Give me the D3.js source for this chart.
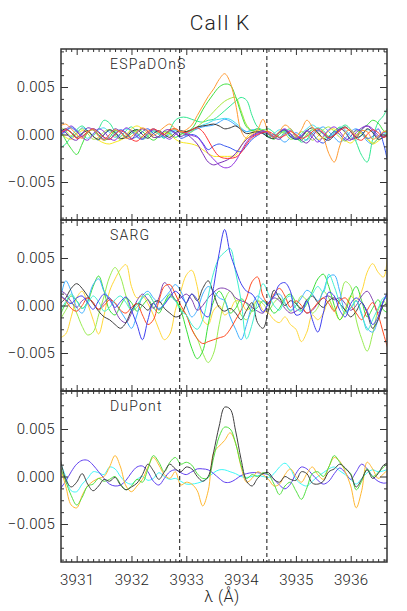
<!DOCTYPE html>
<html><head><meta charset="utf-8">
<script src="https://cdn.jsdelivr.net/npm/d3@7"></script>
<style>
html,body{margin:0;padding:0;background:#fff;}
svg{display:block;}
svg text{font-family:"Roboto","DejaVu Sans",sans-serif;font-weight:300;}
</style></head>
<body><svg id="chart" width="407" height="611"></svg>
<script>
// Wavelength grid (Å)
const wavelength = [3930.7,3930.8,3930.9,3931.0,3931.1,3931.2,3931.3,3931.4,3931.5,3931.6,
3931.7,3931.8,3931.9,3932.0,3932.1,3932.2,3932.3,3932.4,3932.5,3932.6,
3932.7,3932.8,3932.9,3933.0,3933.1,3933.2,3933.3,3933.4,3933.5,3933.6,
3933.7,3933.8,3933.9,3934.0,3934.1,3934.2,3934.3,3934.4,3934.5,3934.6,
3934.7,3934.8,3934.9,3935.0,3935.1,3935.2,3935.3,3935.4,3935.5,3935.6,
3935.7,3935.8,3935.9,3936.0,3936.1,3936.2,3936.3,3936.4,3936.5,3936.6,3936.7];

// values in units of 1e-3
const espBlack = [0.3,0.6,0.2,-0.3,0.1,0.4,-0.2,-0.5,0.0,0.5, 0.2,-0.4,-0.3,0.3,0.5,0.0,-0.4,0.1,0.4,0.0, -0.3,0.2,0.4,0.3,0.5,0.8,0.9,1.0,1.1,0.9, 0.6,0.7,0.9,0.5,0.1,0.2,0.3,0.1,-0.3,-0.4, 0.2,0.5,-0.2,-0.5,-0.3,0.4,0.7,0.2,-0.4,-0.6, -0.1,0.5,0.8,0.3,-0.3,-0.1,0.6,0.2,-0.5,-0.3, 0.0];
const espPurple = [-0.2,0.5,0.9,0.4,-0.3,-0.6,0.0,0.6,0.3,-0.4, -0.6,0.1,0.7,0.4,-0.2,-0.5,0.1,0.5,0.3,-0.2, -0.5,0.0,0.3,0.1,-0.1,-0.3,-1.0,-2.0,-2.6,-3.2, -3.5,-3.4,-2.8,-1.8,-0.8,-0.2,0.1,0.3,0.2,-0.2, 0.3,0.6,0.1,-0.4,-0.1,0.4,-0.3,-0.8,-0.2,0.5, 0.8,0.3,-0.4,-0.6,0.2,0.7,0.9,0.4,-0.3,0.2, 0.5];
const espViolet = [0.5,0.2,-0.4,-0.6,0.1,0.7,0.5,-0.1,-0.5,0.0, 0.6,0.3,-0.3,-0.5,0.2,0.6,0.3,-0.3,-0.2,0.4, 0.5,0.1,-0.2,0.0,-0.4,-1.0,-2.0,-2.9,-3.2,-3.0, -2.8,-2.5,-2.0,-1.2,-0.5,-0.1,0.2,0.4,0.1,-0.3, -0.5,0.1,0.4,-0.1,-0.6,-0.9,-0.2,0.4,0.1,-0.4, 0.0,0.6,0.3,-0.5,-0.3,0.5,0.9,0.6,-0.1,-0.2, 0.1];
const espBlue = [0.0,0.4,0.7,0.3,-0.2,0.2,0.6,0.3,-0.3,-0.5, 0.1,0.5,0.2,-0.4,-0.2,0.3,0.6,0.1,-0.3,0.0, 0.4,0.2,-0.4,-0.2,0.0,-0.2,-0.9,-1.6,-1.2,-1.0, -1.2,-1.4,-1.7,-1.8,-1.2,-0.5,-0.1,0.2,0.0,-0.3, 0.2,0.5,0.0,-0.5,-0.2,0.4,0.1,-0.6,-0.9,-0.3, 0.3,0.0,-0.6,-0.2,0.5,0.3,-0.4,-0.2,0.6,-1.0, -3.6];
const espLtBlue = [0.6,0.2,-0.3,0.1,0.7,0.4,-0.2,-0.6,0.0,0.4, 0.0,-0.5,-0.2,0.3,0.0,-0.4,0.2,0.6,0.2,-0.3, 0.0,0.4,0.2,-0.1,0.3,0.6,0.8,0.9,1.0,1.3, 1.6,1.4,1.0,0.6,0.3,0.5,0.4,0.1,-0.2,0.0, -0.4,-0.8,-0.3,0.2,-0.2,-0.6,0.1,0.5,0.8,0.3, -0.3,-0.8,-0.4,0.3,0.6,0.1,-0.7,-1.0,-0.4,0.2, 0.4];
const espCyan = [-0.3,0.3,0.8,0.5,0.0,-0.4,0.1,0.5,0.7,0.2, -0.3,0.1,0.6,0.3,-0.3,-0.5,0.0,0.4,0.1,-0.3, 0.2,0.5,0.3,0.1,0.4,0.7,1.0,1.2,1.5,1.6, 1.7,1.6,1.2,0.7,0.3,0.4,0.6,0.2,-0.3,0.1, 0.5,0.3,-0.3,-0.5,0.1,0.6,1.0,0.6,0.0,-0.4, 0.2,0.8,0.5,-0.2,-0.6,0.0,0.5,0.3,-0.3,0.0, 0.3];
const espSpring = [-1.4,-1.0,-0.2,0.5,0.9,0.4,-0.1,0.6,1.5,1.2, 0.3,-0.2,0.4,0.8,0.2,-0.5,-0.2,0.3,0.0,-0.4, 0.5,1.5,1.8,1.8,1.6,1.4,1.3,1.5,1.6,2.0, 2.5,3.0,3.5,3.9,3.6,2.0,0.8,0.5,0.6,0.2, -0.3,0.3,0.6,-0.2,-0.8,-0.5,0.3,0.7,0.4,-0.2, 0.0,0.6,1.0,0.5,-0.8,-2.2,-2.9,-0.5,1.3,2.0, 3.2];
const espGreen = [0.5,-0.6,-1.5,-2.1,-1.0,0.2,0.5,0.0,-0.6,-0.3, 0.4,0.2,-0.3,0.1,0.5,0.3,-0.2,-0.6,-0.2,0.3, 0.1,-0.3,0.0,0.3,0.6,1.5,2.6,3.5,4.3,5.0, 5.3,5.2,4.0,2.2,0.8,0.4,0.6,0.3,-0.2,-0.5, 0.0,0.4,0.1,-0.4,-0.6,0.0,0.5,0.2,-0.4,-0.2, 0.4,0.7,0.2,-0.5,-0.1,0.6,1.0,1.5,1.2,0.4, 0.0];
const espYGreen = [0.8,0.4,-0.2,0.2,0.6,0.1,-0.5,-0.3,0.3,0.5, -0.1,-0.5,0.0,0.4,0.2,-0.3,0.1,0.5,0.2,-0.2, 0.3,0.6,0.2,0.0,0.3,0.8,1.3,1.8,2.4,3.0, 3.5,3.8,3.9,2.5,1.0,0.4,0.2,0.5,0.3,-0.2, 0.3,0.1,-0.5,-0.3,0.3,0.0,-0.6,-0.2,0.5,0.8, 0.3,-0.3,-0.7,-0.2,0.4,0.1,-0.5,-0.9,-0.4,0.3, 0.5];
const espYellow = [0.2,-0.3,-0.5,0.0,0.4,0.3,-0.2,-0.6,-0.9,-1.0, -0.8,-0.6,-0.2,0.6,0.9,0.6,0.1,-0.3,-0.2,0.2, 0.0,-0.5,-0.8,-0.9,-1.0,-1.2,-1.6,-2.0,-2.3,-2.3, -2.3,-2.3,-2.2,-1.2,-0.3,0.2,0.4,0.3,0.0,-0.3, 0.2,0.5,0.1,-0.4,-0.2,0.3,0.0,-0.5,-0.3,0.4, 0.6,0.0,-0.6,-0.9,-0.4,0.2,-0.3,-1.0,-0.7,-0.2, 0.1];
const espOrange = [0.9,1.1,0.6,0.0,-0.4,0.2,0.5,-0.2,-0.6,0.0, 0.5,0.2,-0.4,-0.2,0.3,0.7,0.4,-0.1,0.3,0.8, 1.1,0.6,0.3,0.5,1.0,2.0,3.0,4.0,4.8,5.8, 6.4,5.5,3.2,0.4,-0.4,0.0,0.5,1.6,0.2,-0.3, 0.3,1.0,0.6,-0.2,0.5,1.5,0.8,0.0,-0.4,-2.0, -2.9,-1.2,0.2,0.5,-0.1,0.4,0.3,-0.5,-0.2,0.3, 0.2];
const espRed = [0.1,0.5,0.2,-0.4,-0.2,0.3,0.6,0.2,-0.3,-0.5, 0.0,0.4,0.1,-0.5,-0.7,-0.2,0.3,0.6,0.3,0.0, 0.5,0.6,0.3,0.2,0.5,0.7,0.3,-0.6,-1.6,-2.3, -2.5,-2.5,-2.4,-1.9,-1.0,-0.3,0.0,0.2,0.3,0.0, -0.3,-0.1,0.3,0.0,-0.4,-0.2,0.3,0.6,0.2,-0.3, -0.1,0.4,0.7,0.3,-0.4,-0.6,0.0,0.5,0.2,-0.3, 0.0];

const sargBlack = [0.2,0.8,1.8,2.3,1.8,1.0,0.2,-0.6,-1.2,-1.5, -2.0,-2.4,-1.8,-0.5,0.2,0.0,-0.5,0.3,0.5,-0.3, -0.8,-1.2,-1.0,0.2,1.2,0.5,1.8,2.6,1.2,-0.2, -0.6,-0.3,-0.8,-1.5,-0.5,0.3,-1.8,-2.4,-0.5,1.6, 0.8,0.0,0.5,0.2,-0.3,0.6,1.0,0.3,-0.2,0.5, 0.8,0.2,-0.5,-1.2,-0.6,0.3,-0.8,-2.4,-1.5,0.0, 0.2];
const sargPurple = [1.6,1.2,0.4,-0.2,0.5,0.8,0.3,-0.4,0.3,0.8, -0.5,-1.5,-1.8,-0.8,0.5,1.2,0.6,-0.3,0.8,2.4, 1.8,0.5,0.8,1.2,0.6,-0.5,0.0,0.8,1.4,1.8, 1.8,1.5,0.8,0.5,0.3,-0.2,-0.6,-0.8,0.2,0.8, 0.5,-0.3,-0.8,-0.6,-0.3,-0.8,-0.5,0.2,0.8,1.0, 0.6,0.8,0.2,-0.5,0.0,1.0,1.5,0.6,-0.8,0.5, 1.6];
const sargBlue = [1.1,0.6,0.2,0.8,1.0,0.3,-0.4,0.5,1.2,0.6, -0.2,0.4,0.9,-0.5,-2.0,-3.6,-1.5,0.2,-0.4,0.1, 0.9,1.5,1.0,0.3,1.2,0.6,-0.8,-1.2,2.0,5.5, 8.0,5.5,3.8,2.3,1.5,1.2,0.3,-0.7,0.3,1.0, 2.2,2.4,1.5,-1.0,-0.8,0.5,-1.5,-2.8,-0.8,1.4, 1.0,-0.5,-1.2,0.2,0.8,0.3,-0.6,-2.0,-1.2,0.5, 1.5];
const sargLtBlue = [0.5,2.6,1.5,-0.2,-0.8,0.5,2.2,2.8,1.5,0.8, 0.2,-0.6,-1.5,-2.4,-1.0,1.0,1.5,0.8,0.3,0.8, 1.5,2.2,1.5,0.0,-1.2,-0.5,1.2,2.0,1.5,0.8, 0.5,-1.2,-2.5,-3.6,-2.0,0.0,1.0,0.5,0.0,1.0, 1.2,0.3,-0.5,0.0,0.8,1.6,1.2,0.5,1.5,3.0, 3.2,1.5,-0.5,-0.3,0.5,-1.0,-2.4,-2.8,-1.5,0.5, 1.8];
const sargCyan = [-0.5,0.4,1.2,0.5,-0.3,0.2,1.0,0.4,-0.6,-0.2, 0.6,1.0,0.3,-0.5,0.1,0.8,1.2,0.4,-0.3,0.2, 0.9,0.5,-0.6,-1.0,-2.0,-2.5,-1.5,1.0,3.5,5.0, 5.6,6.0,3.5,0.5,-3.5,-2.0,0.5,2.3,1.2,0.0, -0.5,0.6,1.0,-0.3,-0.6,0.4,1.2,2.0,1.4,3.3, 2.0,0.3,-0.8,-0.2,0.5,-0.8,-2.6,-1.5,-0.3,0.8, 0.5];
const sargGreen = [-1.0,0.2,1.0,0.5,-0.3,0.4,2.0,3.1,1.5,-0.5, -1.0,0.0,0.8,0.3,-0.6,0.0,0.6,-0.2,-0.8,0.3, 1.2,0.6,-0.5,-2.5,-4.5,-5.6,-4.8,-2.0,0.5,1.5, 0.6,-0.8,-0.3,0.7,0.2,-0.6,-0.2,0.5,0.0,-0.8, -0.3,0.8,1.2,0.3,-0.5,0.2,1.5,2.8,3.3,2.0, 0.0,-1.5,-0.6,1.0,2.0,0.5,-1.2,-0.3,0.6,-0.5, -0.8];
const sargYGreen = [-1.5,-0.5,0.3,-0.8,-2.2,-3.1,-2.8,-1.0,1.0,3.0, 4.0,3.0,1.0,-0.5,-0.2,0.8,1.2,0.4,-0.5,0.2, 1.0,0.6,-0.3,-1.0,-2.5,-3.5,-5.0,-6.0,-5.0,-2.0, 0.5,1.5,0.5,-1.0,-1.5,-0.5,0.5,0.2,-0.5,0.3, 0.8,0.2,-0.6,0.0,1.0,0.5,-0.8,-0.2,1.5,0.8, -0.5,0.6,2.5,2.0,-1.5,-3.5,-4.8,-3.0,-0.5,0.5, -0.8];
const sargYellow = [-3.4,-3.0,-1.2,0.8,1.5,0.2,-1.5,-3.0,-1.0,1.5, 2.8,3.8,4.3,2.0,0.8,1.0,0.2,-1.0,-2.5,-3.6, -3.0,-0.5,1.5,3.2,3.7,2.0,-1.5,-2.0,-0.5,0.0, -1.0,-0.5,0.5,0.3,-0.5,0.0,0.5,-0.5,-0.8,-1.5, -1.8,-1.2,-2.0,-2.5,-3.8,-2.8,-1.0,-1.5,-0.8,0.5, -0.5,-1.5,-0.3,1.0,0.5,1.5,3.5,4.4,3.5,3.0, 8.5];
const sargRed = [1.0,0.5,-0.3,-0.6,0.0,0.8,0.3,-0.4,0.0,0.6, 0.3,-0.5,-0.8,-0.2,0.2,-1.0,-2.0,-1.5,0.5,2.0, 2.2,1.2,0.0,-1.0,-2.5,-3.5,-4.0,-3.8,-3.6,-3.4, -3.2,-2.5,-1.5,-0.5,0.8,2.5,3.0,1.0,0.2,1.2, 1.8,1.0,-0.2,0.5,0.0,-0.8,-0.4,0.3,0.8,0.2, -0.6,0.5,0.8,0.0,-0.8,-1.5,-0.5,0.3,-1.0,-3.0, -5.0];

const dupBlack = [1.9,-0.3,-1.1,-0.6,0.3,-0.8,-1.5,-1.0,-0.3,-0.5, -0.1,-0.9,-1.4,-1.1,-0.7,0.2,1.3,0.6,-0.3,0.5, 1.3,0.8,0.5,1.0,0.8,0.0,-0.5,0.0,2.6,5.3, 7.3,7.1,4.8,1.8,-0.5,-1.0,-0.2,0.3,0.4,-0.3, -0.6,0.0,-0.3,-0.4,0.5,0.3,-0.7,-0.8,-0.5,0.5, 0.8,1.3,0.9,0.2,-1.1,-0.3,0.7,-0.2,0.3,1.2, 1.5];
const dupGreen = [1.0,-0.5,-2.0,-3.0,-2.2,-1.0,-0.8,-0.2,-0.5,-0.3, 0.0,-0.8,-1.4,-1.0,-0.3,-0.6,0.8,2.2,1.5,0.5, 1.5,2.0,1.3,1.5,1.2,0.3,-0.2,-0.1,2.0,4.2, 5.2,5.0,3.5,1.2,-0.2,0.2,0.0,0.4,0.2,-0.8, -1.9,-1.0,-0.6,-1.5,-2.4,-1.2,0.3,0.5,0.0,1.0, 2.2,1.5,0.8,0.3,-1.4,-0.5,0.8,0.0,0.4,1.0, 1.5];
const dupOrange = [1.0,-1.0,-3.0,-3.3,-2.0,-1.0,-0.5,-0.2,0.0,1.0, 2.2,1.0,-1.0,-1.6,-1.0,-0.3,1.0,2.0,1.2,0.2, -0.2,0.5,-0.9,-0.6,-0.8,-1.5,-3.1,-1.5,2.5,3.2, 3.8,4.6,3.5,1.0,-0.6,-0.2,0.5,0.2,-0.3,-1.0, -0.8,0.2,0.8,0.0,-0.6,0.3,1.0,0.2,-0.3,1.0, 2.0,1.6,0.5,-1.0,-3.3,-1.5,1.5,0.8,-0.2,0.3, 0.8];
const dupBlue = [-1.3,-0.5,0.5,1.3,1.7,1.7,1.2,0.5,-0.2,-0.8, -1.0,-0.9,-0.4,0.4,1.0,1.1,0.5,-0.5,-0.9,-0.2, 0.5,0.7,0.4,0.2,0.5,0.8,0.8,0.7,0.3,-0.2, -0.6,-0.6,-0.3,0.1,0.3,0.4,0.4,0.3,0.2,-0.3, -0.9,-1.3,-0.8,0.3,1.0,0.8,0.2,-0.4,-0.8,-0.5, 0.3,0.9,0.4,-0.3,0.5,1.3,0.8,0.0,-0.5,-0.7, -0.6];
const dupCyan = [1.5,0.0,-1.5,-1.6,-0.8,-0.2,0.5,0.4,0.2,1.0, 0.8,0.0,-0.6,-0.8,-0.3,0.0,-0.4,-0.2,0.4,0.0, -0.3,-0.2,-0.5,-0.8,-0.8,-0.7,-0.5,-0.1,0.4,0.7, 0.7,0.5,0.3,0.0,-0.1,0.0,0.1,0.0,-0.1,0.3, 1.0,1.4,0.8,-0.3,-0.8,-1.0,-0.5,0.0,0.4,0.8, 1.0,0.6,0.2,-0.3,-0.8,-0.2,0.4,0.7,0.5,0.6, 0.8];

const panelNames = ["ESPaDOnS", "SARG", "DuPont"];
const espSeries = [
  {v: espSpring, c: "#30e890"}, {v: espCyan, c: "#40e0f0"}, {v: espLtBlue, c: "#40a8ff"},
  {v: espYGreen, c: "#a8e840"}, {v: espGreen, c: "#40e040"}, {v: espYellow, c: "#f8e820"},
  {v: espBlack, c: "#383838"}, {v: espBlue, c: "#3858f0"}, {v: espViolet, c: "#7a30b8"},
  {v: espPurple, c: "#9030e0"}, {v: espRed, c: "#ff3030"}, {v: espOrange, c: "#ff9a30"}];
const sargSeries = [
  {v: sargYellow, c: "#ffd838"}, {v: sargYGreen, c: "#98ec50"}, {v: sargGreen, c: "#38e038"},
  {v: sargLtBlue, c: "#40b0ff"}, {v: sargPurple, c: "#8040b0"}, {v: sargBlack, c: "#404040"},
  {v: sargRed, c: "#ff4a20"}, {v: sargCyan, c: "#40f0d0"}, {v: sargBlue, c: "#4040f0"}];
const dupSeries = [
  {v: dupCyan, c: "#40f8f8"}, {v: dupBlue, c: "#6040f0"}, {v: dupOrange, c: "#ffb830"},
  {v: dupGreen, c: "#50e040"}, {v: dupBlack, c: "#404040"}];
const panels = [espSeries, sargSeries, dupSeries];

const xMajorTicks = [3931, 3932, 3933, 3934, 3935, 3936];
const yMajorTicks = [-0.005, 0.000, 0.005];
const dashedLines = [3932.88, 3934.47];
const unit = 1e-3;

const svg = d3.select("#chart");
const L = 61, R = 387, T = 49, PH = 171;
const FONT = "Roboto, 'DejaVu Sans', sans-serif";
const x = d3.scaleLinear().domain([3930.714, 3936.662]).range([L, R]);
const xMinor = d3.range(3930.8, 3936.7, 0.1).map(d => Math.round(d*10)/10).filter(d => !xMajorTicks.includes(d));
const yMinor = [-0.00875,-0.0075,-0.00625,-0.00375,-0.0025,-0.00125,0.00125,0.0025,0.00375,0.00625,0.0075,0.00875];
const axisColor = "#333";
const textColor = "#222";

svg.append("text").attr("x", 220).attr("y", 30).attr("text-anchor", "middle")
  .attr("font-size", 21).attr("fill", textColor).attr("letter-spacing", 1).text("CaII K");

panels.forEach((series, p) => {
  const top = T + p * PH, bot = top + PH;
  const y = d3.scaleLinear().domain([-0.009, 0.009]).range([bot, top]);
  const g = svg.append("g");
  const cid = "clip" + p;
  svg.append("clipPath").attr("id", cid).append("rect")
    .attr("x", L).attr("y", top).attr("width", R - L).attr("height", PH);
  const line = d3.line().x((d, i) => x(wavelength[i])).y(d => y(d * unit))
    .curve(d3.curveCatmullRom.alpha(0.5));
  const lg = g.append("g").attr("clip-path", `url(#${cid})`);
  series.forEach(s => {
    lg.append("path").attr("d", line(s.v)).attr("fill", "none")
      .attr("stroke", s.c).attr("stroke-width", 1);
  });
  const axes = [
    {a: d3.axisBottom(x).tickValues(xMajorTicks).tickSize(-6).tickPadding(12).tickFormat(p === 2 ? d3.format("d") : ""), t: `translate(0,${bot})`},
    {a: d3.axisBottom(x).tickValues(xMinor).tickSize(-3).tickFormat(""), t: `translate(0,${bot})`},
    {a: d3.axisTop(x).tickValues(xMajorTicks).tickSize(-6).tickFormat(""), t: `translate(0,${top})`},
    {a: d3.axisTop(x).tickValues(xMinor).tickSize(-3).tickFormat(""), t: `translate(0,${top})`},
    {a: d3.axisLeft(y).tickValues(yMajorTicks).tickSize(-7).tickPadding(6).tickFormat(d3.format(".3f")), t: `translate(${L},0)`},
    {a: d3.axisLeft(y).tickValues(yMinor).tickSize(-3).tickFormat(""), t: `translate(${L},0)`},
    {a: d3.axisRight(y).tickValues(yMajorTicks).tickSize(-7).tickFormat(""), t: `translate(${R},0)`},
    {a: d3.axisRight(y).tickValues(yMinor).tickSize(-3).tickFormat(""), t: `translate(${R},0)`}
  ];
  axes.forEach(ax => {
    const ag = g.append("g").attr("transform", ax.t).call(ax.a)
      .attr("font-family", FONT).attr("font-size", 15);
    ag.select(".domain").remove();
    ag.selectAll("line").attr("stroke", axisColor).attr("stroke-width", 1);
    ag.selectAll("text").attr("fill", textColor).attr("font-weight", 300).attr("letter-spacing", 0.3);
  });
  g.append("rect").attr("x", L).attr("y", top).attr("width", R - L).attr("height", PH)
    .attr("fill", "none").attr("stroke", axisColor).attr("stroke-width", 1.5);
  g.append("text").attr("x", 110).attr("y", top + 19.5).attr("font-size", 14)
    .attr("letter-spacing", 1.2).attr("fill", textColor).text(panelNames[p]);
});

dashedLines.forEach(d => {
  svg.append("line").attr("x1", x(d)).attr("x2", x(d)).attr("y1", T).attr("y2", T + 3 * PH)
    .attr("stroke", "#111").attr("stroke-width", 1).attr("stroke-dasharray", "4,3");
});

svg.append("text").attr("x", 222).attr("y", 602).attr("text-anchor", "middle")
  .attr("font-size", 16).attr("fill", textColor).attr("letter-spacing", 0.5).text("λ (Å)");
</script>
</body></html>
